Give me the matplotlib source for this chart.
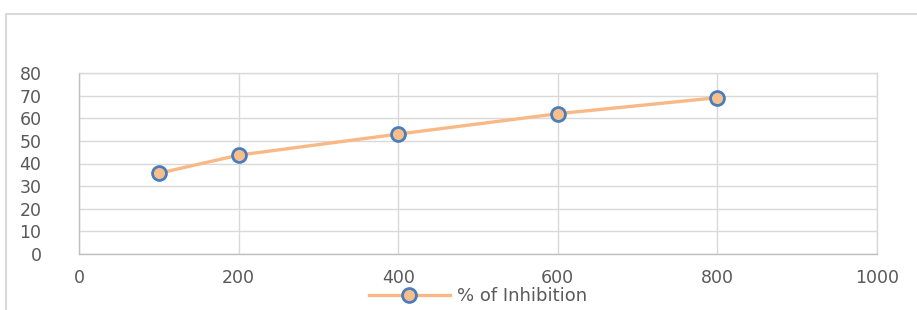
import matplotlib
matplotlib.use("Agg")
import matplotlib.pyplot as plt
from matplotlib.patches import Rectangle

concentration = [100, 200, 400, 600, 800]
inhibition = [35.7, 43.7, 53.0, 62.0, 69.1]
series_label = "% of Inhibition"
xticks = [0, 200, 400, 600, 800, 1000]
yticks = [0, 10, 20, 30, 40, 50, 60, 70, 80]

W, H = 917, 310
fig = plt.figure(figsize=(W / 100, H / 100), dpi=100)
fig.patch.set_facecolor("white")

# outer chart border
fig.patches.append(Rectangle((6 / W, -0.05), 1.1, 1 - 14 / H + 0.05,
                             transform=fig.transFigure, fill=False,
                             edgecolor="#D9D9D9", linewidth=1.5))

ax = fig.add_axes([79 / W, 1 - 254 / H, (877 - 79) / W, (254 - 73) / H])
text_color = "#595959"
grid_color = "#D9D9D9"

ax.plot(concentration, inhibition, color="#F9B987", linewidth=2.4,
        marker="o", markersize=10, markerfacecolor="#F8BE8C",
        markeredgecolor="#4A7EBB", markeredgewidth=2.0, label=series_label,
        zorder=3)

ax.set_xlim(0, 1000)
ax.set_ylim(0, 80)
ax.set_xticks(xticks)
ax.set_yticks(yticks)
ax.grid(True, color=grid_color, linewidth=1.0)
ax.set_axisbelow(True)
for s in ax.spines.values():
    s.set_color(grid_color)
    s.set_linewidth(1.0)
ax.spines["left"].set_color("#BFBFBF")
ax.spines["bottom"].set_color("#BFBFBF")
ax.tick_params(axis="both", length=0, colors=text_color, labelsize=12.5)
ax.tick_params(axis="y", pad=27)
ax.tick_params(axis="x", pad=11)
for lab in ax.get_xticklabels() + ax.get_yticklabels():
    lab.set_fontfamily("DejaVu Sans")

leg = ax.legend(loc="upper center", bbox_to_anchor=(0.5, -0.185), frameon=False,
                fontsize=13, handlelength=4.5, handletextpad=0.4,
                borderaxespad=0, borderpad=0)
for t in leg.get_texts():
    t.set_color(text_color)

fig.savefig("out.png", dpi=100, facecolor="white")
